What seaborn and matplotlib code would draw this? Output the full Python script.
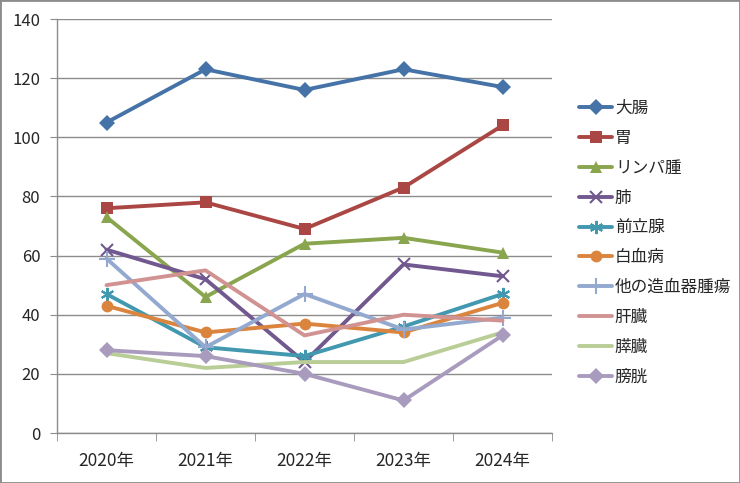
import matplotlib
matplotlib.use("Agg")
import matplotlib.pyplot as plt
import seaborn as sns
from matplotlib.patches import Rectangle
from matplotlib.ticker import FixedLocator

years = ["2020年", "2021年", "2022年", "2023年", "2024年"]

daicho = [105, 123, 116, 123, 117]
i = [76, 78, 69, 83, 104]
lympho = [73, 46, 64, 66, 61]
hai = [62, 52, 24, 57, 53]
zenritsusen = [47, 29, 26, 36, 47]
hakketsu = [43, 34, 37, 34, 44]
zoketsu = [59, 29, 47, 35, 39]
kanzo = [50, 55, 33, 40, 38]
suizo = [27, 22, 24, 24, 34]
boko = [28, 26, 20, 11, 33]

names = ["大腸", "胃", "リンパ腫", "肺", "前立腺", "白血病",
         "他の造血器腫瘍", "肝臓", "膵臓", "膀胱"]
values = [daicho, i, lympho, hai, zenritsusen, hakketsu,
          zoketsu, kanzo, suizo, boko]

colors = ["#4572A7", "#AA4643", "#89A54E", "#71588F", "#4198AF",
          "#DB843D", "#93A9CF", "#D19392", "#B9CD96", "#A99BBD"]
markers = ["D", "s", "^", "x", (6, 2, 0), "o", "+", None, None, "D"]
msizes = [8.5, 9, 9, 9, 9.5, 8.5, 11, 0, 0, 8.5]

sns.set_style("white")
plt.rcParams["font.family"] = ["Noto Sans CJK JP", "DejaVu Sans"]

fig = plt.figure(figsize=(7.4, 4.83), dpi=100)
ax = fig.add_axes([57 / 740, 50 / 483, 495 / 740, 414 / 483])

for name, vals, c, m, ms in zip(names, values, colors, markers, msizes):
    sns.lineplot(x=years, y=vals, ax=ax, color=c, marker=m, markersize=ms,
                 markeredgecolor=c, markeredgewidth=1.5 if m in ("x", "+", (6, 2, 0)) else 0,
                 linewidth=2.8, label=name)

ax.set_xlim(-0.5, 4.5)
ax.set_ylim(0, 140)
ax.set_yticks(range(0, 141, 20))
ax.yaxis.grid(True, color="#8c8c8c", linewidth=1)
ax.xaxis.grid(False)
ax.set_xlabel("")
ax.set_ylabel("")

for s in ["top", "right"]:
    ax.spines[s].set_visible(False)
for s in ["left", "bottom"]:
    ax.spines[s].set_color("#8c8c8c")
    ax.spines[s].set_linewidth(1)

# category boundary ticks like Excel
ax.xaxis.set_minor_locator(FixedLocator([-0.5, 0.5, 1.5, 2.5, 3.5, 4.5]))
ax.tick_params(axis="x", which="major", length=0, pad=14, labelsize=12.5)
ax.tick_params(axis="x", which="minor", length=6, color="#8c8c8c", direction="out", bottom=True)
ax.tick_params(axis="y", length=5, color="#8c8c8c", direction="out", left=True, labelsize=12, pad=7)

leg = ax.legend(loc="upper left", bbox_to_anchor=(564 / 740, 398 / 483),
                bbox_transform=fig.transFigure, frameon=False, fontsize=12,
                handlelength=2.0, handletextpad=0.15, labelspacing=0.77)

fig.patches.append(Rectangle((0, 0), 1, 1, transform=fig.transFigure, fill=False,
                             edgecolor="#8c8c8c", linewidth=2))

fig.savefig("out.png", dpi=100)
